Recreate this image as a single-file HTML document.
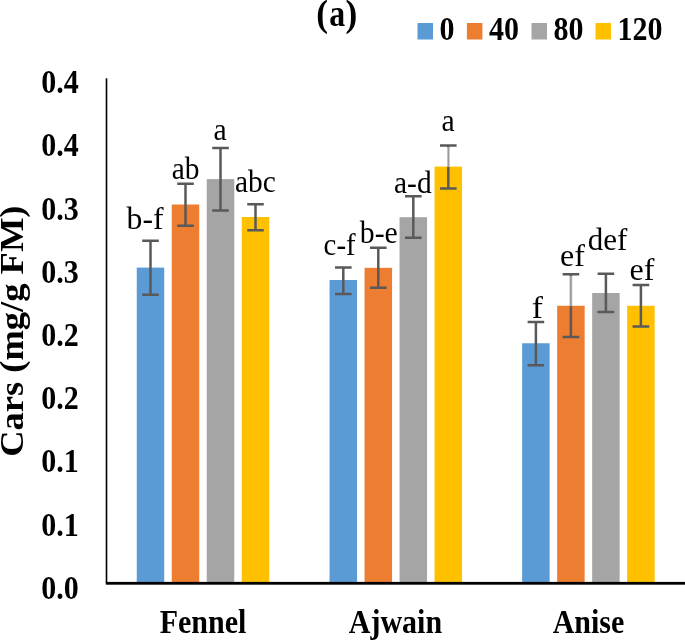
<!DOCTYPE html><html><head><meta charset="utf-8"><style>html,body{margin:0;padding:0;background:#fff;}svg{display:block;will-change:transform;}text{font-family:"Liberation Serif",serif;}</style></head><body>
<svg width="685" height="640" viewBox="0 0 685 640">
<rect x="0" y="0" width="685" height="640" fill="#fff"/>
<rect x="136.75" y="267.60" width="27.5" height="315.70" fill="#5B9BD5"/>
<rect x="171.75" y="204.50" width="27.5" height="378.80" fill="#ED7D31"/>
<rect x="206.75" y="179.10" width="27.5" height="404.20" fill="#A5A5A5"/>
<rect x="241.75" y="217.00" width="27.5" height="366.30" fill="#FFC000"/>
<rect x="329.55" y="280.00" width="27.5" height="303.30" fill="#5B9BD5"/>
<rect x="364.55" y="267.80" width="27.5" height="315.50" fill="#ED7D31"/>
<rect x="399.55" y="217.20" width="27.5" height="366.10" fill="#A5A5A5"/>
<rect x="434.55" y="166.60" width="27.5" height="416.70" fill="#FFC000"/>
<rect x="522.15" y="343.25" width="27.5" height="240.05" fill="#5B9BD5"/>
<rect x="557.15" y="305.75" width="27.5" height="277.55" fill="#ED7D31"/>
<rect x="592.15" y="293.00" width="27.5" height="290.30" fill="#A5A5A5"/>
<rect x="627.15" y="305.75" width="27.5" height="277.55" fill="#FFC000"/>
<path d="M150.50 240.80V294.80M142.20 240.80H158.80M142.20 294.80H158.80" stroke="#595959" stroke-width="2.5" fill="none"/>
<path d="M185.50 183.80V225.80M177.20 183.80H193.80M177.20 225.80H193.80" stroke="#595959" stroke-width="2.5" fill="none"/>
<path d="M220.50 147.90V210.60M212.20 147.90H228.80M212.20 210.60H228.80" stroke="#595959" stroke-width="2.5" fill="none"/>
<path d="M255.50 204.30V230.30M247.20 204.30H263.80M247.20 230.30H263.80" stroke="#595959" stroke-width="2.5" fill="none"/>
<path d="M343.30 267.50V294.05M335.00 267.50H351.60M335.00 294.05H351.60" stroke="#595959" stroke-width="2.5" fill="none"/>
<path d="M378.30 247.80V287.80M370.00 247.80H386.60M370.00 287.80H386.60" stroke="#595959" stroke-width="2.5" fill="none"/>
<path d="M413.30 196.20V237.80M405.00 196.20H421.60M405.00 237.80H421.60" stroke="#595959" stroke-width="2.5" fill="none"/>
<path d="M448.30 145.60V188.40M440.00 145.60H456.60M440.00 188.40H456.60" stroke="#595959" stroke-width="2.5" fill="none"/>
<path d="M535.90 322.05V365.30M527.60 322.05H544.20M527.60 365.30H544.20" stroke="#595959" stroke-width="2.5" fill="none"/>
<path d="M570.90 274.30V337.05M562.60 274.30H579.20M562.60 337.05H579.20" stroke="#595959" stroke-width="2.5" fill="none"/>
<path d="M605.90 273.80V312.05M597.60 273.80H614.20M597.60 312.05H614.20" stroke="#595959" stroke-width="2.5" fill="none"/>
<path d="M640.90 285.05V326.55M632.60 285.05H649.20M632.60 326.55H649.20" stroke="#595959" stroke-width="2.5" fill="none"/>
<rect x="447.00" y="147.50" width="2.6" height="19.10" fill="#fff"/>
<rect x="447.40" y="147.50" width="1.8" height="19.10" fill="#999"/>
<rect x="569.60" y="276.20" width="2.6" height="29.55" fill="#fff"/>
<rect x="570.00" y="276.20" width="1.8" height="29.55" fill="#999"/>
<rect x="105.7" y="78.3" width="1.6" height="505.00" fill="#000"/>
<rect x="105.8" y="581.90" width="579.20" height="2.8" fill="#000"/>
<text transform="translate(145.05 228.60) scale(0.990 1.0)" text-anchor="middle" font-size="32">b-f</text>
<text transform="translate(185.53 179.40) scale(0.920 1.0)" text-anchor="middle" font-size="32">ab</text>
<text transform="translate(220.19 140.30) scale(0.930 1.0)" text-anchor="middle" font-size="32">a</text>
<text transform="translate(255.45 192.10) scale(0.920 1.0)" text-anchor="middle" font-size="32">abc</text>
<text transform="translate(339.59 255.10) scale(0.900 1.0)" text-anchor="middle" font-size="32">c-f</text>
<text transform="translate(378.78 242.60) scale(0.930 1.0)" text-anchor="middle" font-size="32">b-e</text>
<text transform="translate(412.85 192.60) scale(0.920 1.0)" text-anchor="middle" font-size="32">a-d</text>
<text transform="translate(448.09 130.70) scale(0.930 1.0)" text-anchor="middle" font-size="32">a</text>
<text transform="translate(537.38 317.90) scale(1.050 1.0)" text-anchor="middle" font-size="32">f</text>
<text transform="translate(572.53 266.15) scale(1.000 1.0)" text-anchor="middle" font-size="32">ef</text>
<text transform="translate(607.49 249.90) scale(0.970 1.0)" text-anchor="middle" font-size="32">def</text>
<text transform="translate(641.93 280.40) scale(1.000 1.0)" text-anchor="middle" font-size="32">ef</text>
<text transform="translate(78.8 93.10) scale(1 1.11)" text-anchor="end" font-size="30" font-weight="bold">0.4</text>
<text transform="translate(78.8 156.32) scale(1 1.11)" text-anchor="end" font-size="30" font-weight="bold">0.4</text>
<text transform="translate(78.8 219.55) scale(1 1.11)" text-anchor="end" font-size="30" font-weight="bold">0.3</text>
<text transform="translate(78.8 282.77) scale(1 1.11)" text-anchor="end" font-size="30" font-weight="bold">0.3</text>
<text transform="translate(78.8 346.00) scale(1 1.11)" text-anchor="end" font-size="30" font-weight="bold">0.2</text>
<text transform="translate(78.8 409.23) scale(1 1.11)" text-anchor="end" font-size="30" font-weight="bold">0.2</text>
<text transform="translate(78.8 472.45) scale(1 1.11)" text-anchor="end" font-size="30" font-weight="bold">0.1</text>
<text transform="translate(78.8 535.67) scale(1 1.11)" text-anchor="end" font-size="30" font-weight="bold">0.1</text>
<text transform="translate(78.8 598.90) scale(1 1.11)" text-anchor="end" font-size="30" font-weight="bold">0.0</text>
<text transform="translate(203.00 633.3) scale(1 1.11)" text-anchor="middle" font-size="30" font-weight="bold">Fennel</text>
<text transform="translate(395.40 633.3) scale(1 1.11)" text-anchor="middle" font-size="30" font-weight="bold">Ajwain</text>
<text transform="translate(588.50 633.3) scale(1 1.11)" text-anchor="middle" font-size="30" font-weight="bold">Anise</text>
<text transform="translate(23.2 456.8) rotate(-90) scale(1.09 1)" font-size="33.5" font-weight="bold">Cars (mg/g FM)</text>
<text transform="translate(316.2 25.8) scale(1 1.06)" font-size="35.4" font-weight="bold">(</text>
<text transform="translate(337.2 25.8) scale(0.9 1.06)" text-anchor="middle" font-size="35.4" font-weight="bold">a</text>
<text transform="translate(357.4 25.8) scale(1 1.06)" text-anchor="end" font-size="35.4" font-weight="bold">)</text>
<rect x="417.5" y="23" width="15.5" height="16.5" fill="#5B9BD5"/>
<text transform="translate(439.50 40) scale(1 1.1)" font-size="30" font-weight="bold">0</text>
<rect x="466.9" y="23" width="15.5" height="16.5" fill="#ED7D31"/>
<text transform="translate(488.90 40) scale(1 1.1)" font-size="30" font-weight="bold">40</text>
<rect x="531.5" y="23" width="15.5" height="16.5" fill="#A5A5A5"/>
<text transform="translate(553.50 40) scale(1 1.1)" font-size="30" font-weight="bold">80</text>
<rect x="595.5" y="23" width="15.5" height="16.5" fill="#FFC000"/>
<text transform="translate(617.50 40) scale(1 1.1)" font-size="30" font-weight="bold">120</text>
</svg></body></html>
